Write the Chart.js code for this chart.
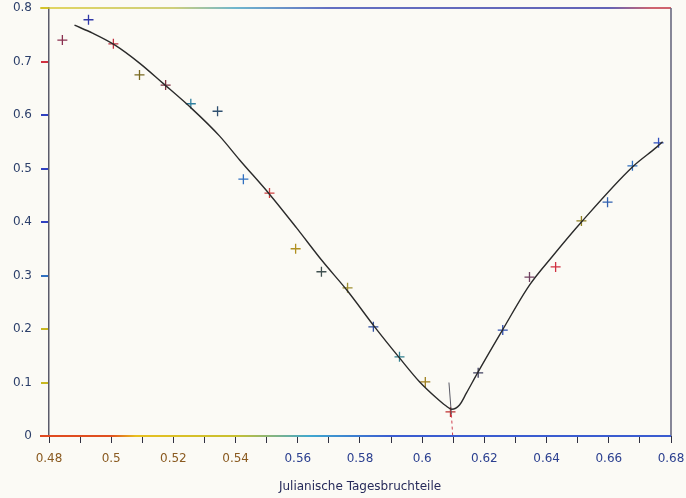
<!DOCTYPE html>
<html>
<head>
<meta charset="utf-8">
<script src="https://cdn.jsdelivr.net/npm/chart.js@4.4.0/dist/chart.umd.min.js"></script>
<style>
  html, body { margin: 0; padding: 0; background: #fbfaf5; }
  #wrap { width: 686px; height: 498px; }
</style>
</head>
<body>
<div id="wrap"><canvas id="lightChart"></canvas></div>
<script>
// Beobachtungen (Julianische Tagesbruchteile / Helligkeit)
const obsX = [0.4843, 0.4927, 0.5007, 0.5091, 0.5175, 0.5256, 0.5342, 0.5425, 0.5509, 0.5593, 0.5676, 0.5760,
              0.5843, 0.5927, 0.6010, 0.6091, 0.6180, 0.6259, 0.6345, 0.6429, 0.6512, 0.6596, 0.6676, 0.6760];
const obsY = [0.740, 0.778, 0.733, 0.675, 0.656, 0.621, 0.607, 0.480, 0.454, 0.350, 0.307, 0.277,
              0.204, 0.148, 0.101, 0.045, 0.118, 0.198, 0.297, 0.316, 0.402, 0.437, 0.505, 0.548];

// Ausgleichskurve
const fitX = [0.4882, 0.4940, 0.5011, 0.5091, 0.5165, 0.5261, 0.5348, 0.5413, 0.5509, 0.5596, 0.5679, 0.5760,
              0.5847, 0.5927, 0.5992, 0.6046, 0.6075, 0.6095, 0.6120, 0.6142, 0.6178, 0.6258, 0.6345, 0.6419,
              0.6512, 0.6676, 0.6754, 0.6773];
const fitY = [0.768, 0.753, 0.731, 0.697, 0.660, 0.611, 0.561, 0.516, 0.452, 0.389, 0.327, 0.271,
              0.204, 0.146, 0.101, 0.071, 0.057, 0.050, 0.058, 0.080, 0.118, 0.198, 0.282, 0.336,
              0.400, 0.503, 0.540, 0.550];

// Markierung des Minimums
const minX = [0.6086, 0.6094, 0.6098];
const minY = [0.100, 0.040, 0.000];

const xTicks = [0.48, 0.5, 0.52, 0.54, 0.56, 0.58, 0.6, 0.62, 0.64, 0.66, 0.68];
const yTicks = [0, 0.1, 0.2, 0.3, 0.4, 0.5, 0.6, 0.7, 0.8];

const crossColors = ['#8a3050', '#3038a8', '#c03040', '#7a6a20', '#803040', '#3080a0', '#305070', '#3070c0',
                     '#d04040', '#b09020', '#405050', '#a09030', '#3050a0', '#308090', '#a08020', '#c03030',
                     '#404060', '#3050b0', '#704060', '#d03040', '#908020', '#3060b0', '#3070c0', '#3050c0'];
const yTickColors = ['#e04020', '#c8b820', '#c8b820', '#3070c0', '#3040c0', '#3040c0', '#3040c0', '#d03040', '#c8b820'];

function pts(xs, ys) {
    return xs.map((x, i) => ({ x: x, y: ys[i] }));
}

// Rahmen und farbige Achsenlinie (Scan-Farbsaum)
const framePlugin = {
    id: 'frame',
    afterDraw(chart) {
        const a = chart.chartArea;
        const c = chart.ctx;
        c.save();
        c.lineWidth = 1.6;
        let g = c.createLinearGradient(a.left, 0, a.right, 0);
        g.addColorStop(0, '#d8c830');
        g.addColorStop(0.2, '#c0c050');
        g.addColorStop(0.3, '#40a0c0');
        g.addColorStop(0.45, '#3040b0');
        g.addColorStop(0.9, '#3030a0');
        g.addColorStop(0.97, '#c03040');
        g.addColorStop(1, '#c03040');
        c.strokeStyle = g;
        c.beginPath();
        c.moveTo(a.left - 9, a.top);
        c.lineTo(a.right, a.top);
        c.stroke();
        c.strokeStyle = '#6a6a80';
        c.beginPath();
        c.moveTo(a.right, a.top);
        c.lineTo(a.right, a.bottom);
        c.stroke();
        g = c.createLinearGradient(a.left, 0, a.right, 0);
        g.addColorStop(0, '#e04a20');
        g.addColorStop(0.1, '#e05020');
        g.addColorStop(0.14, '#e8c020');
        g.addColorStop(0.3, '#c8c030');
        g.addColorStop(0.42, '#40a8d0');
        g.addColorStop(0.55, '#3a5cd0');
        g.addColorStop(1, '#3a5cd0');
        c.lineWidth = 2;
        c.strokeStyle = g;
        c.beginPath();
        c.moveTo(a.left - 9, a.bottom);
        c.lineTo(a.right, a.bottom);
        c.stroke();
        c.restore();
    }
};

document.addEventListener('DOMContentLoaded', function() {
    const ctx = document.getElementById('lightChart').getContext('2d');
    new Chart(ctx, {
        type: 'scatter',
        data: {
            datasets: [{
                label: 'Kurve',
                data: pts(fitX, fitY),
                showLine: true,
                borderColor: '#2a2a2a',
                borderWidth: 1.4,
                pointRadius: 0,
                cubicInterpolationMode: 'monotone'
            }, {
                label: 'Minimum',
                data: pts(minX, minY),
                showLine: true,
                borderColor: '#5a5a66',
                borderWidth: 1,
                pointRadius: 0,
                segment: {
                    borderColor: s => (s.p0DataIndex === 1 ? '#d04050' : '#5a5a66'),
                    borderDash: s => (s.p0DataIndex === 1 ? [3, 3] : [])
                }
            }, {
                label: 'Beobachtungen',
                data: pts(obsX, obsY),
                pointStyle: 'cross',
                pointRadius: 5,
                pointBorderWidth: 1.3,
                borderColor: crossColors,
                backgroundColor: crossColors
            }]
        },
        plugins: [framePlugin],
        options: {
            responsive: true,
            maintainAspectRatio: false,
            animation: false,
            layout: { padding: { top: 8, right: 0 } },
            plugins: {
                legend: { display: false },
                tooltip: { enabled: false }
            },
            scales: {
                x: {
                    type: 'linear',
                    min: 0.48,
                    max: 0.68,
                    afterBuildTicks: s => { s.ticks = []; for (let i = 48; i <= 68; i++) s.ticks.push({ value: i / 100 }); },
                    afterFit: s => { s.height = 62; s.paddingLeft = 0; s.paddingRight = 15; },
                    grid: { display: true, drawOnChartArea: false, drawTicks: true, tickLength: 7, color: '#303040' },
                    border: { display: false },
                    ticks: {
                        autoSkip: false,
                        maxRotation: 0,
                        padding: 9,
                        font: { family: 'DejaVu Sans', size: 12 },
                        color: c => (c.index < 8 ? '#8a5a20' : '#2c4090'),
                        callback: v => {
                            const k = Math.round(v * 100);
                            return k % 2 === 0 ? String(xTicks.find(t => Math.round(t * 100) === k)) : '';
                        }
                    },
                    title: {
                        display: true,
                        text: 'Julianische Tagesbruchteile',
                        color: '#262a5a',
                        font: { family: 'DejaVu Sans', size: 12 },
                        padding: { top: 4 }
                    }
                },
                y: {
                    min: 0,
                    max: 0.8,
                    afterBuildTicks: s => { s.ticks = yTicks.map(v => ({ value: v })); },
                    afterFit: s => { s.width = 49; s.paddingTop = 0; s.paddingBottom = 0; },
                    grid: { display: true, drawOnChartArea: false, tickLength: 8, color: c => yTickColors[c.index] || '#3040c0', lineWidth: 2 },
                    border: { color: '#5a5a6a', width: 1.5 },
                    ticks: {
                        padding: 9,
                        font: { family: 'DejaVu Sans', size: 12 },
                        color: '#2c3f6a',
                        callback: v => String(Math.round(v * 10) / 10)
                    }
                }
            }
        }
    });
});
</script>
</body>
</html>
